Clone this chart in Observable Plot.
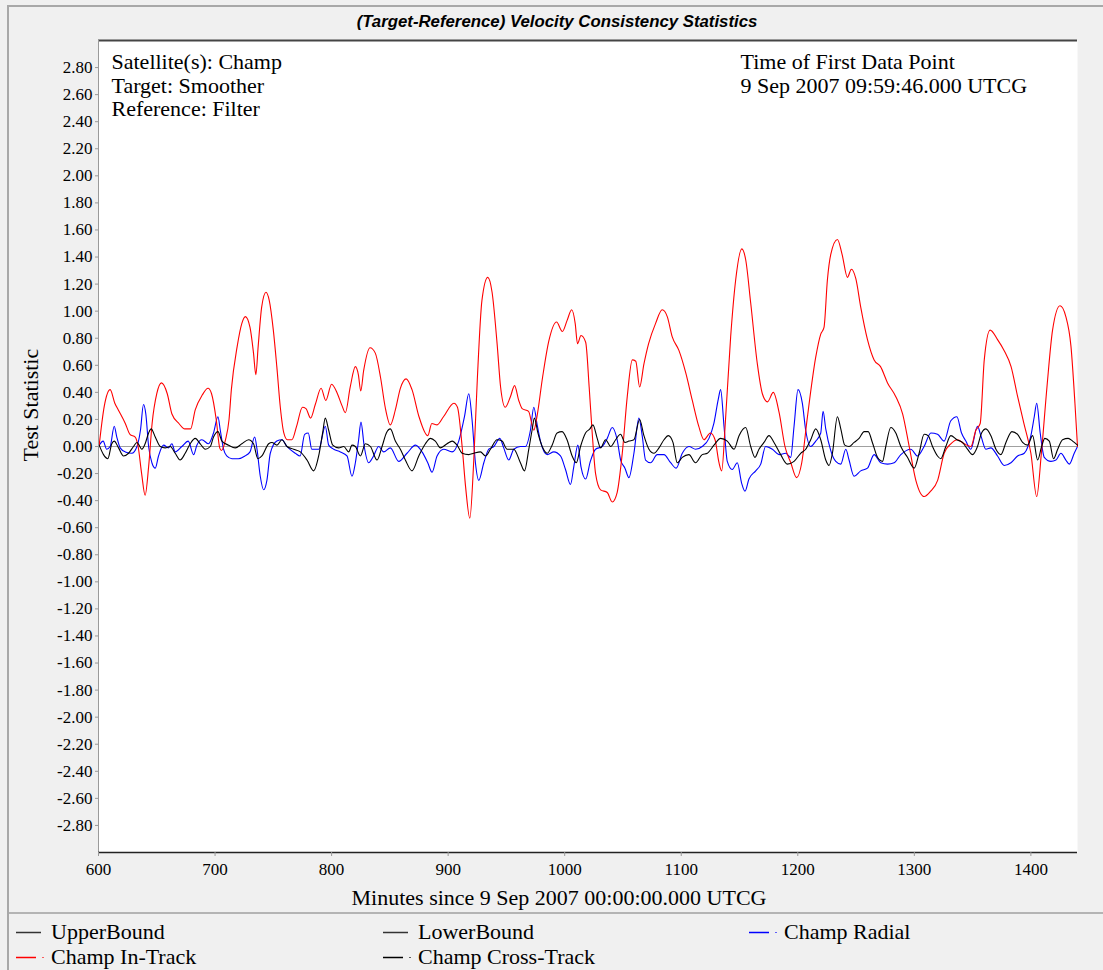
<!DOCTYPE html>
<html><head><meta charset="utf-8">
<script src="https://cdn.jsdelivr.net/npm/d3@7"></script>
<script src="https://cdn.jsdelivr.net/npm/@observablehq/plot@0.6"></script>
<style>
body{margin:0;background:#f0f0f0;}
#wrap{position:relative;width:1103px;height:970px;overflow:hidden;background:#f0f0f0;}
#title{height:32px;box-sizing:border-box;padding-top:13px;padding-left:11px;text-align:center;font:italic bold 16.8px "Liberation Sans",Arial,sans-serif;line-height:18px;color:#000;}
#chart svg{display:block;}
#chart svg text.ticklab{font-size:17px !important;}
#legend{position:relative;height:56px;border-top:2px solid #b4b4b4;margin-left:8px;font:22px "Liberation Serif",serif;color:#000;}
.item{position:absolute;display:flex;align-items:center;white-space:nowrap;height:24px;}
.item svg{display:block;}
#border{position:absolute;left:7px;top:5px;right:0;bottom:0;border-left:2px solid #a8a8a8;border-top:2px solid #a8a8a8;pointer-events:none;}
</style></head>
<body>
<div id="wrap">
  <div id="title"></div>
  <div id="chart"></div>
  <div id="legend"></div>
  <div id="border"></div>
</div>
<script>
const titleText = "(Target-Reference) Velocity Consistency Statistics";
const xLabel = "Minutes since 9 Sep 2007 00:00:00.000 UTCG";
const yLabel = "Test Statistic";
const infoLeft = ["Satellite(s): Champ", "Target: Smoother", "Reference: Filter"];
const infoRight = ["Time of First Data Point", "9 Sep 2007 09:59:46.000 UTCG"];
const xTicks = [600, 700, 800, 900, 1000, 1100, 1200, 1300, 1400];
const yTicks = d3.range(-14, 15).map(i => i / 5);
const legendLabels = ["UpperBound", "LowerBound", "Champ Radial", "Champ In-Track", "Champ Cross-Track"];
const legendColors = ["#333333", "#333333", "#0000ff", "#ff0000", "#000000"];
const legendDotted = [false, false, true, true, true];

// [minutes, test statistic]
const inTrack = [[600.6,0.01],[605,0.30],[610,0.42],[614,0.32],[617,0.27],[623,0.17],[627,0.09],[631.5,0.07],[634,0.0],[637,-0.2],[640,-0.36],[643,-0.15],[646,0.17],[650,0.39],[654,0.47],[659,0.39],[663,0.24],[669,0.17],[674,0.13],[679,0.13],[683,0.27],[689,0.38],[694,0.43],[697,0.39],[701,0.2],[704,-0.01],[705.5,-0.03],[709,0.05],[712,0.2],[714,0.42],[719,0.74],[723,0.91],[726,0.96],[730,0.88],[733,0.69],[735,0.53],[737,0.74],[740,1.03],[743.7,1.14],[746.5,1.08],[750,0.86],[753,0.59],[756,0.29],[759,0.10],[762,0.05],[766,0.05],[770,0.15],[775,0.29],[778,0.28],[782,0.21],[786,0.31],[791,0.43],[795,0.34],[800,0.46],[805,0.39],[809,0.30],[811.8,0.25],[816,0.44],[820.4,0.59],[823,0.53],[825,0.41],[827.5,0.56],[833,0.73],[837.5,0.69],[842,0.51],[846,0.29],[850.4,0.16],[854.7,0.27],[859,0.43],[864,0.50],[869,0.42],[875,0.22],[882.5,0.08],[886,0.17],[890.5,0.16],[896,0.22],[905,0.32],[908,0.29],[912,0.0],[915,-0.30],[918.6,-0.53],[922,-0.10],[925,0.49],[929,1.08],[934,1.25],[937.7,1.14],[942,0.76],[945,0.44],[949,0.29],[953.5,0.37],[957,0.45],[960.6,0.34],[963.5,0.28],[969,0.26],[973.5,0.12],[976,0.21],[981,0.51],[986.4,0.78],[993,0.92],[998,0.85],[1002,0.93],[1006,1.01],[1009,0.91],[1011,0.76],[1014,0.82],[1018,0.77],[1021,0.44],[1023.6,0.10],[1026.5,-0.20],[1030.8,-0.32],[1036.5,-0.34],[1040.8,-0.41],[1045,-0.34],[1049.4,-0.05],[1053.7,0.37],[1058,0.64],[1061,0.63],[1064.3,0.44],[1068,0.61],[1072,0.76],[1078,0.91],[1083.7,1.01],[1088,0.96],[1092.3,0.81],[1098,0.71],[1104,0.54],[1109.5,0.34],[1115,0.15],[1119.5,0.05],[1125,0.10],[1129,0.05],[1132.4,-0.12],[1134.7,-0.18],[1138,0.20],[1142.4,0.81],[1146.7,1.23],[1152,1.46],[1155.3,1.38],[1159.6,1.06],[1165.3,0.61],[1169.6,0.39],[1174,0.33],[1179,0.40],[1184,0.25],[1189,0.0],[1194,-0.12],[1199,-0.23],[1203.4,-0.12],[1208,0.20],[1215.4,0.66],[1219.7,0.83],[1222.5,0.88],[1225.4,1.23],[1228.3,1.42],[1234,1.53],[1238,1.42],[1242.6,1.25],[1246,1.31],[1249.8,1.24],[1254,1.03],[1259.8,0.79],[1265.5,0.64],[1271,0.59],[1277,0.47],[1284,0.37],[1290,0.24],[1295.6,0.0],[1301.3,-0.25],[1308.4,-0.37],[1314,-0.33],[1320,-0.25],[1325.6,-0.05],[1331.3,0.02],[1337,0.05],[1342.8,0.02],[1348.5,0.0],[1352.8,0.12],[1356.5,0.17],[1360,0.64],[1365,0.86],[1371.4,0.79],[1377,0.71],[1383,0.59],[1388.6,0.37],[1394,0.17],[1400,-0.05],[1405,-0.37],[1409,-0.05],[1413.8,0.44],[1418.6,0.86],[1425,1.04],[1430,0.96],[1434.4,0.74],[1437.8,0.32],[1440,0.0]];

const radial = [[600.6,0.01],[604,0.04],[607,-0.02],[610,0.0],[613.5,0.15],[615.7,0.07],[618.6,-0.01],[623,-0.04],[628.6,-0.05],[633,0.0],[636,0.12],[638.6,0.31],[640.6,0.24],[643,0.0],[645.8,-0.12],[648.7,-0.16],[651.5,-0.07],[655.8,0.01],[660,-0.01],[663,0.02],[665.8,-0.04],[671.5,0.0],[677,0.04],[681.6,-0.06],[684.4,0.01],[688.7,0.05],[694.4,0.02],[698.7,0.10],[702.5,0.22],[704.5,0.12],[707.3,-0.02],[710,-0.07],[714.5,-0.09],[720,-0.09],[725.7,-0.07],[730,-0.04],[734,0.07],[736,-0.02],[738.8,-0.22],[741.7,-0.32],[744.5,-0.25],[747.4,-0.05],[753,0.04],[757.4,0.05],[761.7,0.0],[768.9,-0.05],[773,-0.07],[776.9,0.09],[780,0.10],[783,-0.02],[789,-0.02],[794.6,0.15],[797.5,0.01],[801.8,-0.02],[807.5,-0.04],[813.2,-0.07],[817.5,-0.22],[820.4,-0.12],[823.2,0.05],[825.2,0.18],[828,0.0],[831.8,-0.12],[836,-0.07],[840.4,0.0],[844.7,-0.04],[850.4,-0.01],[857.6,-0.11],[864.7,-0.05],[872,0.01],[877.6,-0.04],[882.5,-0.12],[886.2,-0.19],[890.5,-0.07],[896.2,-0.02],[903.4,-0.04],[909.1,0.04],[914,0.22],[917.7,0.39],[920.5,0.2],[923.4,-0.12],[926.3,-0.25],[930.6,-0.12],[934.9,-0.02],[939.2,0.0],[944.3,0.06],[947.7,-0.01],[952,-0.10],[956.3,-0.02],[962,0.0],[966.3,0.0],[970.6,0.12],[973.5,0.29],[976.4,0.16],[979.2,0.04],[985,-0.06],[990.7,-0.04],[996.4,-0.07],[1000.7,-0.17],[1005,-0.28],[1007.8,-0.15],[1011.3,0.01],[1014,-0.15],[1018,-0.24],[1022,-0.11],[1026.5,-0.02],[1032.2,0.0],[1036.5,0.06],[1040.8,0.14],[1045,0.05],[1048,-0.10],[1051.7,-0.16],[1055.1,-0.23],[1059.4,-0.05],[1063.7,0.21],[1066.5,0.08],[1069.4,-0.10],[1073.7,-0.12],[1079.4,-0.06],[1085.2,-0.06],[1090.9,-0.12],[1095.7,-0.16],[1100.9,-0.05],[1106.6,0.0],[1112.3,-0.02],[1118,0.0],[1123.8,0.06],[1128,0.17],[1131.8,0.35],[1133.8,0.42],[1136.7,0.15],[1139.5,-0.11],[1143.8,-0.17],[1148.1,-0.12],[1151.8,-0.27],[1154.7,-0.33],[1158.1,-0.24],[1163.9,-0.18],[1168.2,-0.13],[1172.4,0.0],[1178.2,-0.02],[1183.9,-0.06],[1189.6,-0.05],[1193.9,-0.08],[1196.8,0.15],[1200.2,0.42],[1203.9,0.32],[1206.8,0.12],[1211.1,0.0],[1215.4,0.04],[1219.7,0.10],[1221.7,0.26],[1224,0.13],[1228.3,-0.03],[1232.6,-0.11],[1236.9,-0.13],[1241.2,-0.02],[1244,-0.10],[1248.3,-0.22],[1254,-0.18],[1259.8,-0.16],[1265.5,-0.06],[1271.2,-0.12],[1277,-0.13],[1282.7,-0.12],[1288.4,-0.06],[1297,-0.02],[1302.7,-0.07],[1308.4,0.0],[1314.2,0.10],[1319.9,0.09],[1325.6,0.04],[1331.3,0.19],[1336.5,0.22],[1340.5,0.10],[1344.2,0.04],[1348.5,-0.02],[1354.2,0.15],[1357.1,0.08],[1361.4,-0.02],[1365.7,-0.01],[1371.4,-0.07],[1377.1,-0.14],[1382.9,-0.12],[1388.6,-0.07],[1394.3,-0.05],[1400,0.08],[1402.9,0.22],[1405,0.32],[1408,0.10],[1411.5,-0.08],[1417.2,-0.11],[1421.5,-0.10],[1425.8,-0.05],[1430,-0.10],[1433,-0.13],[1437.2,-0.05],[1440,0.0]];

const crossTrack = [[600.6,0.01],[604.3,-0.06],[608,-0.09],[611.4,0.02],[613.5,0.04],[617.2,-0.01],[621.5,-0.07],[625.8,-0.05],[630,0.0],[633,0.03],[637.2,-0.02],[640,0.02],[643,0.10],[645.2,0.13],[648.7,0.07],[653,0.0],[657.2,-0.01],[661.5,0.0],[665.8,-0.05],[670,-0.10],[674.4,-0.05],[678.7,0.02],[683,0.06],[687.3,0.02],[691.6,-0.02],[695.9,0.0],[698.7,0.07],[702.5,0.11],[705.9,0.04],[711.6,0.01],[717.3,-0.01],[723,0.02],[728.8,0.05],[733,0.02],[736.8,-0.09],[740.2,-0.07],[746,0.02],[748.8,0.03],[753.1,0.01],[757.4,0.05],[761.7,0.0],[767.4,-0.02],[773.2,-0.04],[778.9,-0.10],[784.6,-0.18],[788.9,-0.07],[792.3,0.10],[794.6,0.21],[797.5,0.12],[801,0.01],[806,-0.01],[810.4,0.0],[814.7,-0.04],[817.5,0.01],[820.4,0.0],[824.7,-0.07],[829,0.02],[833.3,0.0],[839,-0.10],[843.3,0.0],[847,0.10],[850.4,0.13],[854.7,0.04],[859,-0.02],[863.3,-0.10],[869,-0.18],[874.8,-0.07],[880.5,0.02],[884.8,0.06],[889,0.04],[893.4,-0.01],[899,0.02],[903.4,0.04],[907.7,0.01],[912,-0.05],[917.7,-0.06],[922,-0.05],[927.7,-0.04],[932,-0.07],[936.3,-0.02],[942,0.05],[946.3,0.04],[950.6,-0.02],[956.3,-0.02],[962,-0.12],[965.5,-0.18],[969.2,-0.02],[972,0.12],[974,0.21],[977,0.10],[980.7,0.0],[985,-0.05],[989.2,0.01],[993.5,0.10],[997.8,0.11],[1002,0.05],[1006.4,-0.07],[1010,-0.12],[1013.6,0.0],[1017.9,0.10],[1021.6,0.13],[1024.2,0.16],[1027.9,0.06],[1030.8,-0.01],[1035.1,0.05],[1039.4,0.0],[1043.7,0.05],[1047.9,0.09],[1051.7,0.03],[1055.1,0.04],[1059.4,0.05],[1064.3,0.20],[1068,0.08],[1072.3,-0.02],[1076.6,-0.05],[1080.9,-0.01],[1085.2,0.05],[1088.9,0.08],[1092.9,0.03],[1096.6,-0.12],[1100.9,-0.08],[1106.6,-0.06],[1112.3,-0.12],[1118,-0.06],[1122.4,-0.05],[1128.1,0.01],[1133.8,0.06],[1139.5,0.04],[1145.3,-0.02],[1149.6,0.08],[1155.3,0.14],[1159.6,0.0],[1163.3,-0.08],[1166.7,-0.02],[1171,0.03],[1175.3,0.08],[1179.6,0.03],[1185.3,-0.06],[1191,-0.13],[1196.8,-0.11],[1202.5,-0.05],[1206.8,-0.02],[1211.1,0.05],[1215.4,0.13],[1219.7,0.05],[1224,-0.10],[1226.8,-0.14],[1229.7,-0.05],[1234,0.22],[1236.9,0.13],[1240.3,0.01],[1244,0.0],[1248.3,0.03],[1252.6,0.06],[1257,0.11],[1260.4,0.11],[1264,0.03],[1268.4,-0.08],[1272.7,-0.11],[1275.5,0.0],[1279.8,0.14],[1284.1,0.10],[1288.4,0.0],[1294.1,-0.08],[1299.9,-0.16],[1304.1,-0.05],[1308.4,0.09],[1311.9,0.08],[1315.6,0.0],[1319.9,-0.07],[1322.7,-0.09],[1327,0.0],[1331.3,0.08],[1336.5,0.05],[1341.3,0.03],[1345.6,-0.02],[1349.9,-0.06],[1354.2,0.0],[1357.7,0.10],[1361.4,0.13],[1365.7,0.08],[1370,-0.02],[1374.3,-0.06],[1378.6,0.03],[1383.7,0.11],[1388.6,0.09],[1392.9,0.03],[1397.2,0.01],[1401.5,0.08],[1405.8,-0.10],[1409.2,0.0],[1412,0.06],[1415.8,0.04],[1419.5,-0.09],[1423,-0.02],[1427.2,0.05],[1432,0.06],[1435.8,0.04],[1440,0.01]];

document.getElementById("title").textContent = titleText;

const lineOpts = (color) => ({x: d => d[0], y: d => d[1], stroke: color, strokeWidth: 1.1, curve: "monotone-x"});

const chart = Plot.plot({
  width: 1103,
  height: 880,
  marginLeft: 98,
  marginRight: 26,
  marginTop: 8,
  marginBottom: 60,
  style: {background: "transparent", fontFamily: '"Liberation Serif", "Times New Roman", serif', fontSize: "17px", color: "#000"},
  x: {domain: [600, 1440]},
  y: {domain: [-3, 3]},
  marks: [
    Plot.frame({fill: "white", stroke: null}),
    Plot.ruleY([0], {stroke: "#a0a0a0", strokeWidth: 1}),
    Plot.line(radial, lineOpts("#0000ff")),
    Plot.line(inTrack, lineOpts("#ff0000")),
    Plot.line(crossTrack, lineOpts("#000000")),
    Plot.ruleY([3], {stroke: "#444", strokeWidth: 2}),
    Plot.ruleX([600], {stroke: "#9a9a9a", strokeWidth: 1}),
    Plot.ruleY([-3], {stroke: "#222", strokeWidth: 1.5}),
    Plot.axisX({ticks: xTicks, tickSize: 4, tickPadding: 6, tickFormat: d => String(d), label: null, stroke: "#999"}),
    Plot.axisY({ticks: yTicks, tickSize: 3, tickPadding: 3, tickFormat: d => d.toFixed(2), label: null, stroke: "#999"}),
    Plot.text([xLabel], {text: d => d, frameAnchor: "bottom", lineAnchor: "middle", dx: -29, dy: 45, fontSize: 22}),
    Plot.text([yLabel], {text: d => d, frameAnchor: "left", rotate: -90, lineAnchor: "middle", dx: -68, dy: 15, fontSize: 22}),
    Plot.text([infoLeft.join("\n")], {text: d => d, frameAnchor: "top-left", textAnchor: "start", lineAnchor: "top", dx: 13, dy: 11, fontSize: 22, lineHeight: 1.09}),
    Plot.text([infoRight.join("\n")], {text: d => d, frameAnchor: "top-left", textAnchor: "start", lineAnchor: "top", dx: 642, dy: 11, fontSize: 22, lineHeight: 1.09})
  ]
});
// enlarge axis tick labels (numeric texts)
const tickSet = new Set([...xTicks.map(String), ...yTicks.map(d => d.toFixed(2))]);
chart.querySelectorAll("text").forEach(t => {
  if (tickSet.has(t.textContent.trim())) {
    t.classList.add("ticklab");
    t.setAttribute("font-size", "17");
    t.style.fontSize = "17px";
  }
});
document.getElementById("chart").appendChild(chart);

// legend
const legend = document.getElementById("legend");
const colLeft = [7, 374, 740];
legendLabels.forEach((lab, i) => {
  const row = i < 3 ? 0 : 1;
  const col = i < 3 ? i : i - 3;
  const item = document.createElement("div");
  item.className = "item";
  item.style.left = colLeft[col] + "px";
  item.style.top = (row === 0 ? 6 : 31) + "px";
  const ns = "http://www.w3.org/2000/svg";
  const s = document.createElementNS(ns, "svg");
  s.setAttribute("width", 35); s.setAttribute("height", 10);
  const ln = document.createElementNS(ns, "line");
  ln.setAttribute("x1", 1); ln.setAttribute("x2", legendDotted[i] ? 21 : 26);
  ln.setAttribute("y1", 5.5); ln.setAttribute("y2", 5.5);
  ln.setAttribute("stroke", legendColors[i]); ln.setAttribute("stroke-width", 1.5);
  s.appendChild(ln);
  if (legendDotted[i]) {
    const dt = document.createElementNS(ns, "line");
    dt.setAttribute("x1", 27); dt.setAttribute("x2", 29);
    dt.setAttribute("y1", 5.5); dt.setAttribute("y2", 5.5);
    dt.setAttribute("stroke", legendColors[i]); dt.setAttribute("stroke-width", 1);
    dt.setAttribute("opacity", 0.6);
    s.appendChild(dt);
  }
  item.appendChild(s);
  const t = document.createElement("span");
  t.textContent = lab;
  t.style.marginLeft = "1px";
  item.appendChild(t);
  legend.appendChild(item);
});
</script>
</body></html>
